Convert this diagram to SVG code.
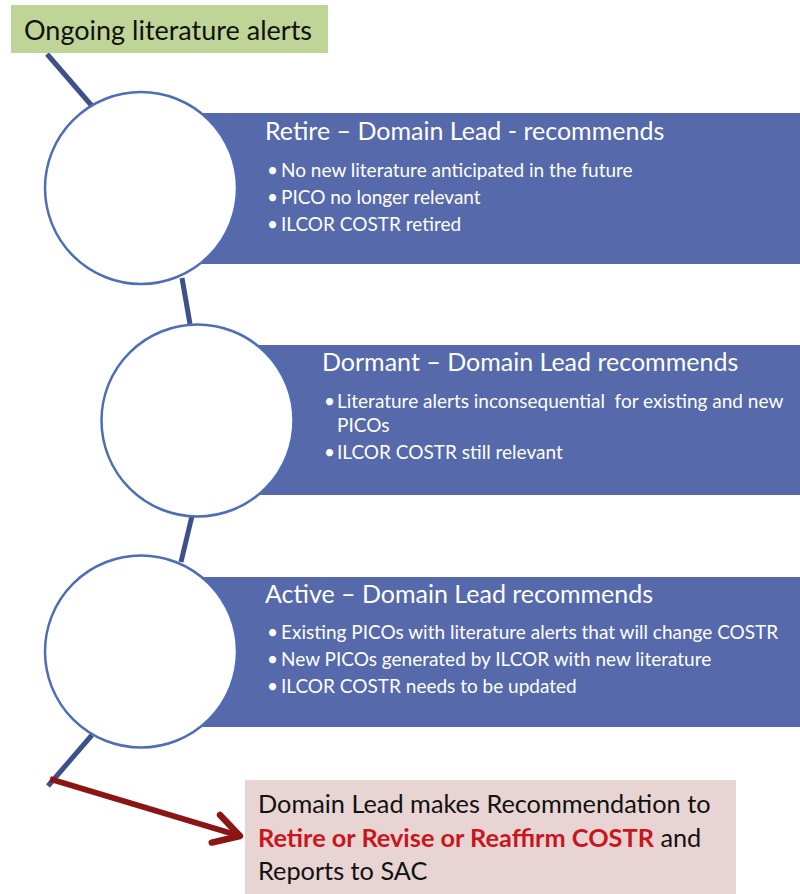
<svg xmlns="http://www.w3.org/2000/svg" width="800" height="894" viewBox="0 0 800 894">
<style>
text{font-family:Lato,"Open Sans","Liberation Sans",sans-serif}
.band{fill:#5569ab}
.circ{fill:#ffffff;stroke:#4e6db8;stroke-width:2.5}
.conn{stroke:#3c5089;stroke-width:5;fill:none;stroke-linecap:butt}
.head{font-size:25px;fill:#ffffff}
.bul{font-size:19px;fill:#ffffff}
.box{font-size:25.3px;fill:#111111}
.red{fill:#c8161d;font-weight:bold}
</style>
<defs>
<marker id="arr" viewBox="0 0 10 10" refX="8" refY="5" markerWidth="6" markerHeight="6" orient="auto" markerUnits="strokeWidth">
<path d="M1,1 L8,5 L1,9" fill="none" stroke="#8b1414" stroke-width="1.8" stroke-linecap="round" stroke-linejoin="round"/>
</marker>
</defs>
<g id="connectors">
<line class="conn" x1="47" y1="54" x2="92" y2="106"/>
<line class="conn" x1="182" y1="278" x2="190" y2="324"/>
<line class="conn" x1="192" y1="516" x2="181" y2="562"/>
<line class="conn" x1="92" y1="735" x2="48" y2="786"/>
<line x1="50" y1="779" x2="240" y2="836" stroke="#8b1414" stroke-width="6" marker-end="url(#arr)"/>
</g>
<g id="start">
<rect x="11" y="5" width="317" height="48" fill="#bfd497"/>
<text x="24" y="40" font-size="27" fill="#111111">Ongoing literature alerts</text>
</g>
<g id="retire">
<rect class="band" x="200" y="113" width="600" height="151"/>
<circle class="circ" cx="141" cy="188" r="96"/>
<text class="head" x="265" y="140">Retire – Domain Lead - recommends</text>
<text class="bul" y="177"><tspan x="267">•</tspan><tspan x="281">No new literature anticipated in the future</tspan></text>
<text class="bul" y="204"><tspan x="267">•</tspan><tspan x="281">PICO no longer relevant</tspan></text>
<text class="bul" y="231"><tspan x="267">•</tspan><tspan x="281">ILCOR COSTR retired</tspan></text>
</g>
<g id="dormant">
<rect class="band" x="250" y="345" width="550" height="150"/>
<circle class="circ" cx="197.5" cy="420.5" r="96"/>
<text class="head" x="322" y="371">Dormant – Domain Lead recommends</text>
<text class="bul" y="408" xml:space="preserve"><tspan x="324">•</tspan><tspan x="337">Literature alerts inconsequential  for existing and new</tspan></text>
<text class="bul" x="337" y="432">PICOs</text>
<text class="bul" y="459"><tspan x="324">•</tspan><tspan x="337">ILCOR COSTR still relevant</tspan></text>
</g>
<g id="active">
<rect class="band" x="200" y="577" width="600" height="150"/>
<circle class="circ" cx="141" cy="651.5" r="96"/>
<text class="head" x="265" y="603">Active – Domain Lead recommends</text>
<text class="bul" y="639"><tspan x="267">•</tspan><tspan x="281">Existing PICOs with literature alerts that will change COSTR</tspan></text>
<text class="bul" y="666"><tspan x="267">•</tspan><tspan x="281">New PICOs generated by ILCOR with new literature</tspan></text>
<text class="bul" y="693"><tspan x="267">•</tspan><tspan x="281">ILCOR COSTR needs to be updated</tspan></text>
</g>
<g id="outcome">
<rect x="245" y="780" width="491" height="114" fill="#e7d4d3"/>
<text class="box" x="258" y="813">Domain Lead makes Recommendation to</text>
<text class="box" x="258" y="847"><tspan class="red">Retire or Revise or Reaffirm COSTR</tspan> and</text>
<text class="box" x="258" y="880">Reports to SAC</text>
</g>
</svg>
